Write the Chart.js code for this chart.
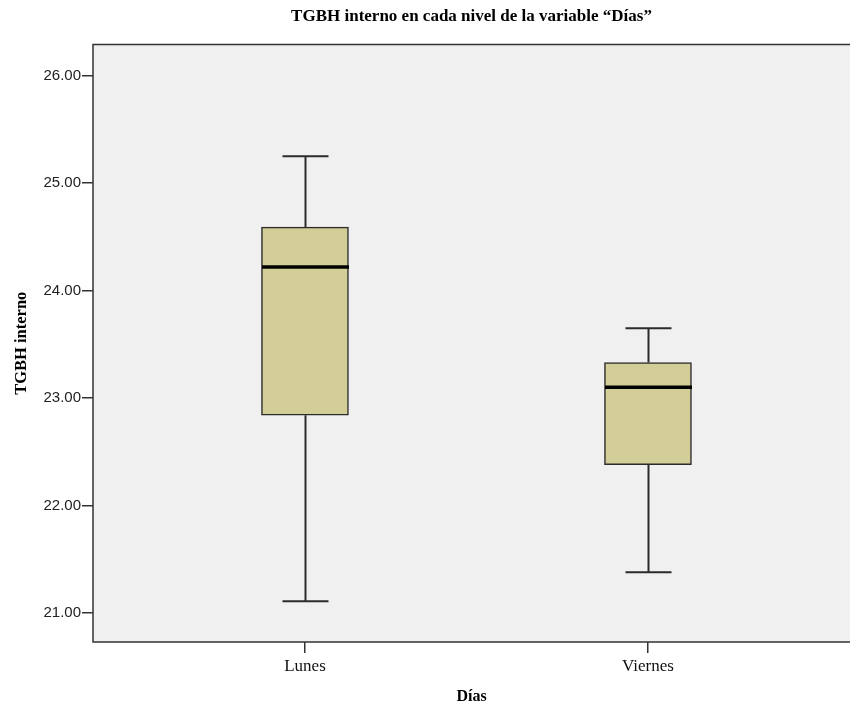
<!DOCTYPE html>
<html>
<head>
<meta charset="utf-8">
<script src="https://cdn.jsdelivr.net/npm/chart.js@4.4.1/dist/chart.umd.min.js"></script>
<style>
  html, body { margin: 0; padding: 0; background: #fff; }
  #wrap { width: 850px; height: 707px; }
</style>
</head>
<body>
<div id="wrap"><canvas id="boxChart"></canvas></div>
<script>
// values
const dias = ['Lunes', 'Viernes'];
const minimo = [21.11, 21.38];
const q1 = [22.84, 22.38];
const mediana = [24.22, 23.10];
const q3 = [24.59, 23.33];
const maximo = [25.25, 23.65];
const yTicks = [21, 22, 23, 24, 25, 26];

const boxFill = 'rgb(211,206,152)';
const dark = '#2b2b2b';

// plot background + frame
const frame = {
    id: 'frame',
    beforeDraw(chart) {
        const {ctx, chartArea: a} = chart;
        ctx.save();
        ctx.fillStyle = '#f0f0f0';
        ctx.fillRect(a.left, a.top, a.right - a.left, a.bottom - a.top);
        ctx.strokeStyle = '#333';
        ctx.lineWidth = 1.5;
        ctx.beginPath();
        ctx.moveTo(a.right, a.top);
        ctx.lineTo(a.left, a.top);
        ctx.lineTo(a.left, a.bottom);
        ctx.lineTo(a.right, a.bottom);
        ctx.stroke();
        ctx.restore();
    }
};

// whiskers, caps and median lines, placed with the chart's scales
const whiskers = {
    id: 'whiskers',
    afterDatasetsDraw(chart) {
        const {ctx, scales: {x, y}} = chart;
        const capHalf = 23, boxHalf = 43.5;
        ctx.save();
        dias.forEach((d, i) => {
            const cx = Math.round(x.getPixelForValue(i)) + 0.5;
            ctx.strokeStyle = dark;
            ctx.lineWidth = 2;
            ctx.beginPath();
            ctx.moveTo(cx, y.getPixelForValue(q3[i]));
            ctx.lineTo(cx, y.getPixelForValue(maximo[i]));
            ctx.moveTo(cx, y.getPixelForValue(q1[i]));
            ctx.lineTo(cx, y.getPixelForValue(minimo[i]));
            const yt = y.getPixelForValue(maximo[i]);
            const yb = y.getPixelForValue(minimo[i]);
            ctx.moveTo(cx - capHalf, yt);
            ctx.lineTo(cx + capHalf, yt);
            ctx.moveTo(cx - capHalf, yb);
            ctx.lineTo(cx + capHalf, yb);
            ctx.stroke();
            ctx.strokeStyle = '#000';
            ctx.lineWidth = 3.5;
            ctx.beginPath();
            const ym = y.getPixelForValue(mediana[i]);
            ctx.moveTo(cx - boxHalf, ym);
            ctx.lineTo(cx + boxHalf, ym);
            ctx.stroke();
        });
        ctx.restore();
    }
};

new Chart(document.getElementById('boxChart'), {
    type: 'bar',
    data: {
        datasets: [{
            label: 'TGBH interno',
            data: dias.map((d, i) => ({x: i, y: [q1[i], q3[i]]})),
            backgroundColor: boxFill,
            borderColor: dark,
            borderWidth: 1.5,
            borderSkipped: false,
            barThickness: 87
        }]
    },
    options: {
        responsive: true,
        maintainAspectRatio: false,
        animation: false,
        layout: {padding: {left: 0, right: 0, top: 0, bottom: 0}},
        plugins: {
            legend: {display: false},
            tooltip: {enabled: false},
            title: {
                display: true,
                fullSize: false,
                text: 'TGBH interno en cada nivel de la variable “Días”',
                color: '#000',
                font: {family: '"Liberation Serif", serif', size: 17, weight: 'bold'},
                padding: {top: 6, bottom: 18}
            }
        },
        scales: {
            x: {
                type: 'linear',
                offset: false,
                min: -0.618,
                max: 1.589,
                afterBuildTicks: s => { s.ticks = dias.map((d, i) => ({value: i})); },
                afterFit: s => { s.height = 65; },
                grid: {display: true, offset: false, drawOnChartArea: false, tickLength: 11, color: '#333', lineWidth: 1.5},
                border: {display: false},
                ticks: {
                    autoSkip: false,
                    maxRotation: 0,
                    padding: 3,
                    color: '#111',
                    font: {family: '"Liberation Serif", serif', size: 17},
                    callback: v => dias[v]
                },
                title: {
                    display: true,
                    text: 'Días',
                    color: '#000',
                    font: {family: '"Liberation Serif", serif', size: 16, weight: 'bold'},
                    padding: {top: 4, bottom: 1}
                }
            },
            y: {
                min: 20.73,
                max: 26.29,
                afterBuildTicks: s => { s.ticks = yTicks.map(v => ({value: v})); },
                afterFit: s => { s.width = 93; },
                grid: {display: true, drawOnChartArea: false, tickLength: 11, color: '#333', lineWidth: 1.5},
                border: {display: false},
                ticks: {
                    padding: 1,
                    color: '#222',
                    font: {family: '"Liberation Sans", sans-serif', size: 15},
                    callback: v => v.toFixed(2)
                },
                title: {
                    display: true,
                    text: 'TGBH interno',
                    color: '#000',
                    font: {family: '"Liberation Serif", serif', size: 16.5, weight: 'bold'},
                    padding: {top: 12, bottom: 0}
                }
            }
        }
    },
    plugins: [frame, whiskers]
});
</script>
</body>
</html>
